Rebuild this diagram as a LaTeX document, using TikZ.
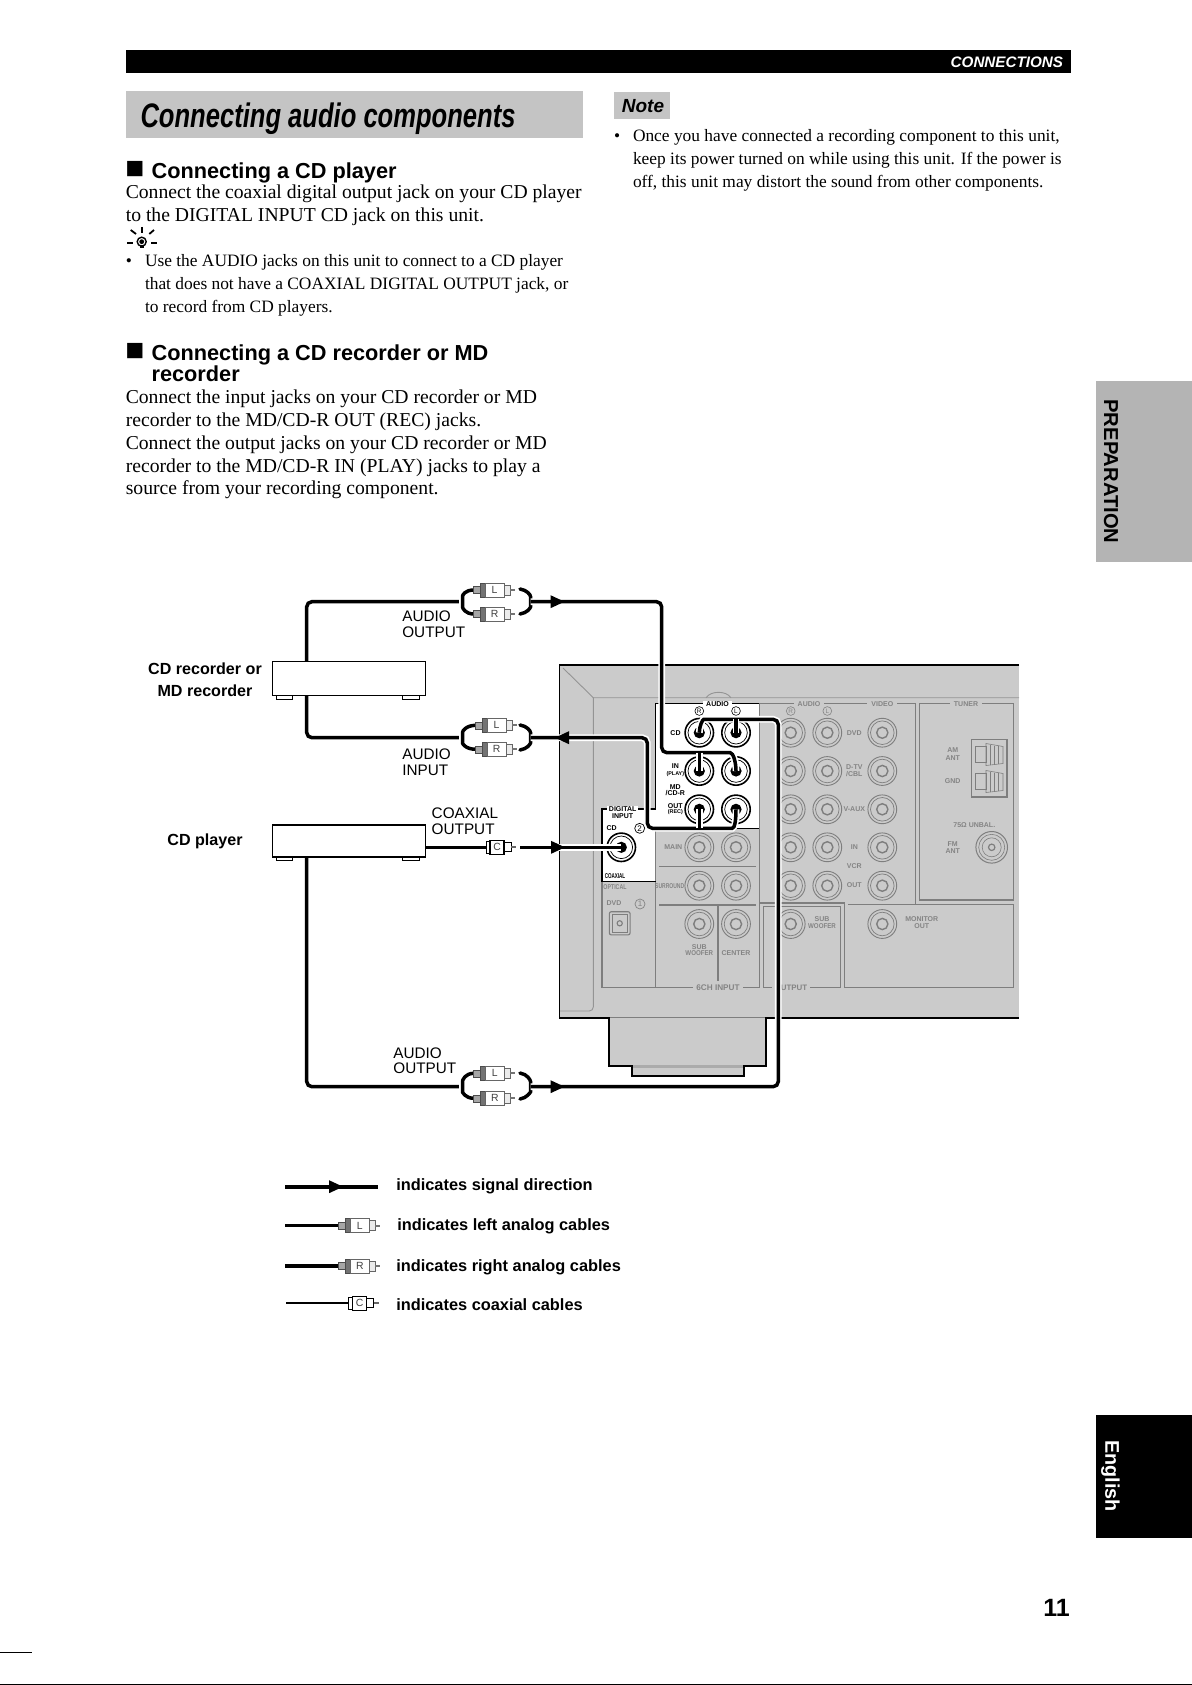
\documentclass[tikz,border=0pt]{standalone}
\usepackage{fontspec}
\usepackage{graphicx}
\setmainfont{Liberation Serif}
\setsansfont{Liberation Sans}
\definecolor{panelg}{HTML}{CBCBCB}
\definecolor{lineg}{HTML}{7E7E7E}
\definecolor{textg}{HTML}{848484}
\definecolor{titleg}{HTML}{C4C4C4}
\definecolor{tabg}{HTML}{B4B4B4}
\newcommand{\fsz}[1]{\fontsize{#1}{#1}\selectfont}
\tikzset{
 every node/.style={inner sep=0pt,outer sep=0pt},
 bodytxt/.style={anchor=base west,font=\fsz{9.83}},
 smalltxt/.style={anchor=base west,font=\fsz{8.69}},
 headtxt/.style={anchor=base west,font=\sffamily\bfseries\fsz{10.86}},
 sqtxt/.style={anchor=base west,font=\sffamily\bfseries\fsz{15.8}},
 labtxt/.style={anchor=west,font=\sffamily\fsz{7.65}},
 boldtxt/.style={font=\sffamily\bfseries\fsz{8.05}},
 legtxt/.style={anchor=west,font=\sffamily\bfseries\fsz{8.18}},
 ptb/.style={font=\sffamily\bfseries\fsz{3.5},text=black},
 pts/.style={font=\sffamily\bfseries\fsz{2.7},text=black},
 ptg/.style={font=\sffamily\bfseries\fsz{3.5},text=textg},
 frameg/.style={draw=lineg,line width=.55pt},
 frameb/.style={draw=black,line width=.55pt},
 outline/.style={draw=black,line width=.85pt},
 cable/.style={draw=black,line width=1.75pt,rounded corners=2.6pt,preaction={draw=white,line width=3.4pt}},
 gjack/.style={circle,draw=lineg,line width=.45pt,minimum size=14.4pt},
 bjack/.style={circle,draw=black,line width=.8pt,minimum size=14.2pt},
 devbox/.style={rectangle,draw=black,line width=.75pt,fill=white,anchor=north west,minimum width=76.3pt},
 plugtxt/.style={font=\sffamily\fsz{5.2},text=black!75},
}
% grey jack: name x y
\newcommand{\gj}[3]{%
 \node[gjack] (#1) at (#2,#3) {};
 \draw[lineg,line width=.35pt] (#1.center) circle (11.8);
 \draw[lineg,line width=.7pt] (#1.center) circle (5.6);
}
% black jack: name x y
\newcommand{\bj}[3]{%
 \node[bjack] (#1) at (#2,#3) {};
 \draw[black,line width=.35pt] (#1.center) circle (11.3);
 \fill[black] (#1.center) circle (5.6);
}
% RCA plug: name x y letter
\newcommand{\rca}[4]{%
 \begin{scope}[shift={(#2,#3)}]
 \filldraw[fill=black!35,draw=black!70,line width=.3pt] (0,-3.5) rectangle (7,3.5);
 \filldraw[fill=black!55,draw=black!70,line width=.3pt] (7,-7) rectangle (12,7);
 \node[rectangle,draw=black!60,fill=white,line width=.4pt,minimum width=9.5pt,minimum height=7pt,plugtxt] (#1) at (21.5,0) {#4};
 \filldraw[fill=black!8,draw=black!60,line width=.35pt] (31,-5) rectangle (37,5);
 \fill[black!55] (37,-1) rectangle (42,1);
 \end{scope}}
% coax plug
\newcommand{\coax}[3]{%
 \begin{scope}[shift={(#2,#3)}]
 \filldraw[fill=white,draw=black,line width=.35pt] (0,-6) rectangle (4,6);
 \node[rectangle,draw=black,fill=white,line width=.7pt,minimum width=7pt,minimum height=7pt,plugtxt] (#1) at (11,0) {C};
 \filldraw[fill=white,draw=black,line width=.4pt] (18,-4.5) rectangle (25,4.5);
 \fill[black!60] (25,-1) rectangle (30,1);
 \end{scope}}
% arrowhead: tip x, y, direction (+1 right, -1 left)
\newcommand{\ahead}[3]{\fill[black] (#1,#2) -- ++(-14*#3,-6.5) -- ++(0,13) -- cycle;}
\begin{document}
\begin{tikzpicture}[x=.5pt,y=-.5pt]
\useasboundingbox (0,0) rectangle (1192,1685);
\fill[white] (0,0) rectangle (1192,1685);
% page furniture
\fill[black] (125.8,50.5) rectangle (1070.8,73);
\node[anchor=east,text=white,font=\sffamily\bfseries\itshape\fsz{7.6}] (hdr) at (1063,62) {CONNECTIONS};
\fill[titleg] (125.8,91.5) rectangle (582.8,137.8);
\node[anchor=west,font=\sffamily\bfseries\itshape\fsz{17}] (title) at (140.5,118.5) {\scalebox{.752}[1]{Connecting audio components}};
\fill[titleg] (613.8,92.4) rectangle (669.8,119.4);
\node[font=\sffamily\bfseries\itshape\fsz{9.5}] (note) at (643,106.5) {Note};
\node[smalltxt] (nb) at (614,141.8) {•};
\node[smalltxt] (n1) at (633,141.8) {Once you have connected a recording component to this unit,};
\node[smalltxt] (n2) at (633,164.4) {keep its power turned on while using this unit. If the power is};
\node[smalltxt] (n3) at (633,188) {off, this unit may distort the sound from other components.};
\fill[tabg] (1096.4,381) rectangle (1192,562);
\node[rotate=-90,font=\sffamily\bfseries\fsz{10.1}] (prep) at (1111,471.5) {PREPARATION};
\fill[black] (1096.4,1415) rectangle (1192,1537.5);
\node[rotate=-90,text=white,font=\sffamily\bfseries\fsz{9.9}] (engl) at (1110.5,1476) {English};
\node[font=\sffamily\bfseries\fsz{12.5}] (pg) at (1056.5,1608) {11};
\draw[black,line width=.5pt] (0,1652.8) -- (32,1652.8);
\draw[black,line width=.5pt] (0,1684.3) -- (1192,1684.3);
% left text
\node[sqtxt] (hb1) at (125.3,179) {■};
\node[headtxt] (h1) at (151.6,178.4) {Connecting a CD player};
\node[bodytxt] (t1) at (125.8,198.6) {Connect the coaxial digital output jack on your CD player};
\node[bodytxt] (t2) at (125.8,221.8) {to the DIGITAL INPUT CD jack on this unit.};
\begin{scope}[shift={(141.7,241.7)},line width=.9pt,black]
 \draw (-14.7,1.6) -- (-8.7,1.6); \draw (9.3,1.6) -- (15.3,1.6);
 \draw (-11,-11.7) -- (-5.7,-7.7); \draw (12.3,-11.7) -- (7.6,-7.7);
 \draw (0,-14.7) -- (0,-9);
 \draw[line width=.7pt] (0,0) circle (4.5);
 \fill (-2,3) rectangle (2,6); \fill (0,0) circle (2.4);
\end{scope}
\node[smalltxt] (sb) at (125.8,266.7) {•};
\node[smalltxt] (s1) at (145,266.7) {Use the AUDIO jacks on this unit to connect to a CD player};
\node[smalltxt] (s2) at (145,289.2) {that does not have a COAXIAL DIGITAL OUTPUT jack, or};
\node[smalltxt] (s3) at (145,312.7) {to record from CD players.};
\node[sqtxt] (hb2) at (125.3,360.6) {■};
\node[headtxt] (h2) at (151.6,360) {Connecting a CD recorder or MD};
\node[headtxt] (h2b) at (151.6,381.6) {recorder};
\node[bodytxt] (u1) at (125.8,403.3) {Connect the input jacks on your CD recorder or MD};
\node[bodytxt] (u2) at (125.8,426.3) {recorder to the MD/CD-R OUT (REC) jacks.};
\node[bodytxt] (u3) at (125.8,449) {Connect the output jacks on your CD recorder or MD};
\node[bodytxt] (u4) at (125.8,472.2) {recorder to the MD/CD-R IN (PLAY) jacks to play a};
\node[bodytxt] (u5) at (125.8,494.4) {source from your recording component.};
% rear panel
\fill[panelg] (609.3,1017) rectangle (766,1066);
\fill[panelg] (631.7,1066) rectangle (744,1075.7);
\fill[black!33] (633,1065) rectangle (743,1068);
\fill[panelg] (559.5,665) rectangle (1019,1017.7);
\draw[lineg,line width=.5pt] (560,1017.7) -- (1019,1017.7);
\draw[outline] (1019,665) -- (559.5,665) -- (559.5,1017.7) -- (609.3,1017.7) -- (609.3,1066) -- (631.7,1066) -- (631.7,1075.7) -- (744,1075.7) -- (744,1066) -- (766,1066) -- (766,1017.7) -- (1019,1017.7);
\draw[black!42,line width=.45pt] (563,668) -- (593.3,697.7) -- (1019,697.7);
\draw[black!42,line width=.45pt,rounded corners=2pt] (593.3,697.7) -- (593.3,1011) -- (560,1011);
\draw[black!42,line width=.45pt] (706,697.7) .. controls (711,690.5) and (726,690.5) .. (731,697.7);
% white areas
\fill[white] (655.7,703.3) rectangle (759.3,828.3);
\fill[white] (602,809) rectangle (655.7,881.7);
% grey frames
\draw[frameg] (759.3,703.3) -- (915.7,703.3) -- (915.7,904.5);
\draw[frameg] (759.3,903) -- (844.3,903) -- (844.3,987.3) -- (1013.3,987.3) -- (1013.3,904.5) -- (848,904.5);
\draw[frameg] (763.3,987.3) -- (763.3,906.7) -- (840.7,906.7) -- (840.7,987.3) -- cycle;
\draw[frameg] (919.3,703.3) rectangle (1013.3,900);
\draw[frameg] (602,881.7) -- (602,987.3) -- (759.3,987.3) -- (759.3,828.3);
\draw[frameg] (655.7,881.7) -- (655.7,987.3);
\draw[frameg] (655.7,828.3) -- (655.7,881.7);
\draw[frameg] (659,866.7) -- (756,866.7);
\draw[frameg] (659,905) -- (756,905);
\draw[frameg] (718,905) -- (718,981);
\draw[frameg] (759.3,703.3) -- (759.3,828.3);
% black frames
\draw[frameb] (655.7,809) -- (655.7,703.3) -- (759.3,703.3);
\draw[frameb] (655.7,809) -- (602,809) -- (602,881.7) -- (655.7,881.7);
\draw[frameb] (655.7,828.3) -- (759.3,828.3);
% grey jacks
\gj{gMainR}{699.3}{847.3} \gj{gMainL}{736}{847.3}
\gj{gSurR}{699.3}{885.7} \gj{gSurL}{736}{885.7}
\gj{gSub}{699.3}{924} \gj{gCen}{736}{924}
\foreach \n/\yy in {a/732.7,b/771,c/809.3,d/847.3,e/885.7}{
 \gj{gA\n}{790.7}{\yy} \gj{gB\n}{827.3}{\yy} \gj{gC\n}{882.3}{\yy}
}
\gj{gOutSub}{790.7}{924}
\gj{gMon}{882.3}{924}
% FM jack
\node[circle,draw=lineg,line width=.5pt,minimum size=15.8pt] (gFM) at (991.7,847.3) {};
\draw[lineg,line width=.3pt] (gFM.center) circle (13);
\draw[lineg,line width=.3pt] (gFM.center) circle (9.5);
\draw[lineg,line width=.6pt] (gFM.center) circle (3.2);
% optical
\node[rectangle,draw=lineg,line width=.55pt,rounded corners=1pt,minimum width=10.4pt,minimum height=11.6pt] (opt) at (619.7,923.3) {};
\draw[lineg,line width=.3pt] (612,914.5) rectangle (627.5,932);
\draw[lineg,line width=.55pt] (opt.center) circle (2.6);
% terminal
\node[rectangle,draw=lineg,line width=.9pt,minimum width=17.6pt,minimum height=28.6pt] (term) at (989,768) {};
\foreach \yy in {743.5,770.5}{
 \draw[lineg,line width=.3pt] (975,\yy+3) rectangle (986,\yy+19);
 \draw[lineg,line width=.3pt] (986,\yy) -- (1003,\yy+3) -- (1003,\yy+20) -- (986,\yy+22) -- cycle;
 \draw[lineg,line width=.25pt] (990,\yy+1) -- (990,\yy+21) (994,\yy+2) -- (994,\yy+21) (998,\yy+2) -- (998,\yy+20);
}
% panel text on grey rules
\node[ptb,fill=white,inner xsep=1.5pt] (tAudB) at (717.5,703.8) {AUDIO};
\node[ptg,fill=panelg,inner xsep=2pt] (tAudG) at (809,703.8) {AUDIO};
\node[ptg,fill=panelg,inner xsep=2pt] (tVid) at (882.3,703.8) {VIDEO};
\node[ptg,fill=panelg,inner xsep=2pt] (tTun) at (966,703.8) {TUNER};
\node[ptg,fill=panelg,inner xsep=1.5pt,font=\sffamily\bfseries\fsz{4.1}] (t6ch) at (718,987.8) {6CH INPUT};
\node[ptg,fill=panelg,inner xsep=1.5pt,font=\sffamily\bfseries\fsz{3.95}] (tOut) at (791,987.8) {OUTPUT};
\node[ptb,fill=white,inner xsep=1pt,inner ysep=.5pt] (tDig) at (622.7,809.5) {DIGITAL};
\node[ptb] (tInp) at (622.7,816.5) {INPUT};
% circled marks
\foreach \nm/\xx/\yy/\tt/\cc in {cbR/699.3/711/R/black,cbL/736/711/L/black,cgR/790.7/711/R/textg,cgL/827.3/711/L/textg}{
 \node[circle,draw=\cc,line width=.3pt,minimum size=4.4pt,text=\cc,font=\sffamily\fsz{3.2}] (\nm) at (\xx,\yy) {\tt};
}
\node[circle,draw=black,line width=.35pt,minimum size=5pt,text=black,font=\sffamily\fsz{4}] (cb2) at (639.7,828.3) {2};
\node[circle,draw=textg,line width=.35pt,minimum size=5pt,text=textg,font=\sffamily\fsz{4}] (cg1) at (640,904) {1};
% black labels
\node[ptb] (lCD) at (675.5,733) {CD};
\node[ptb] (lIN) at (675.3,766) {IN};
\node[pts] (lPL) at (675.3,774) {(PLAY)};
\node[ptb] (lMD) at (675.3,786.7) {MD};
\node[ptb] (lCDR) at (675.3,793) {/CD-R};
\node[ptb] (lOUT) at (675.3,805.7) {OUT};
\node[pts] (lREC) at (675.3,812.2) {(REC)};
\node[ptb] (lCD2) at (611.7,827.7) {CD};
\node[font=\sffamily\bfseries\fsz{3.5},text=black] (lCOAX) at (615,875.7) {\scalebox{.65}[1]{COAXIAL}};
% grey labels
\node[ptg] (gOPT) at (615,886.7) {\scalebox{.75}[1]{OPTICAL}};
\node[ptg] (gDVD) at (614,903) {DVD};
\node[ptg] (gMAIN) at (673.3,847) {MAIN};
\node[ptg] (gSUR) at (669.7,885.7) {\scalebox{.72}[1]{SURROUND}};
\node[ptg] (gSW1) at (699.3,946.7) {SUB};
\node[ptg] (gSW2) at (699.3,953.5) {\scalebox{.88}[1]{WOOFER}};
\node[ptg] (gCEN) at (736,953.5) {CENTER};
\node[ptg] (gSW3) at (822,919.3) {SUB};
\node[ptg] (gSW4) at (822,926.3) {\scalebox{.88}[1]{WOOFER}};
\node[ptg] (gMO1) at (921.7,919.3) {MONITOR};
\node[ptg] (gMO2) at (921.7,926.3) {OUT};
\node[ptg] (gDVD2) at (854.3,732.7) {DVD};
\node[ptg] (gTV) at (854.3,766.7) {D-TV};
\node[ptg] (gCBL) at (854.3,773.7) {/CBL};
\node[ptg] (gVA) at (854.3,808.7) {V-AUX};
\node[ptg] (gIN) at (854.3,846.7) {IN};
\node[ptg] (gVCR) at (854.3,865.7) {VCR};
\node[ptg] (gOUTv) at (854.3,884.7) {OUT};
\node[ptg] (gAM) at (952.7,750.3) {AM};
\node[ptg] (gANT) at (952.7,758.3) {ANT};
\node[ptg] (gGND) at (952.7,781.3) {GND};
\node[ptg] (g75) at (974.3,824.7) {75Ω UNBAL.};
\node[ptg] (gFMt) at (952.7,843.7) {FM};
\node[ptg] (gANT2) at (952.7,850.7) {ANT};
% black jacks
\bj{jCDR}{699.3}{732.7} \bj{jCDL}{736}{732.7}
\bj{jINR}{699.3}{771} \bj{jINL}{736}{771}
\bj{jOUTR}{699.3}{809.3} \bj{jOUTL}{736}{809.3}
\bj{jDIG}{621.3}{847.3}
% free cable points
\coordinate (aR) at (530.5,601.7);
\coordinate (bR) at (530.5,737.7);
\coordinate (dR) at (530.5,1086.7);
\coordinate (cS) at (520,847.3);
\coordinate (recN) at (306.7,661.7); \coordinate (recS) at (306.7,695.7);
\coordinate (cdE) at (425.3,847.3); \coordinate (cdS) at (306.7,857);
% cables
\draw[cable] (recN) |- (462.5,601.7);
\draw[cable] (recS) |- (462.5,737.7);
\draw[cable] (cdS) |- (462.5,1086.7);
\draw[cable] (cdE) -- (487,847.3);
\draw[cable,line cap=round] (474,590) .. controls (465,590) and (462.5,595) .. (462.5,601.7) .. controls (462.5,608) and (465,614) .. (474,614);
\draw[cable,line cap=round] (476,725.3) .. controls (466,725.3) and (462.5,731) .. (462.5,737.7) .. controls (462.5,744) and (466,749.3) .. (476,749.3);
\draw[cable,line cap=round] (474,1073.3) .. controls (465,1073.3) and (462.5,1080) .. (462.5,1086.7) .. controls (462.5,1092) and (465,1098.3) .. (474,1098.3);
\draw[cable,line cap=round] (520,589) .. controls (527,590) and (530.5,595) .. (530.5,601.7) .. controls (530.5,608) and (527,613) .. (520,614);
\draw[cable,line cap=round] (520,725) .. controls (527,726) and (530.5,731) .. (530.5,737.7) .. controls (530.5,744) and (527,749) .. (520,750);
\draw[cable,line cap=round] (520,1073) .. controls (527,1074) and (530.5,1080) .. (530.5,1086.7) .. controls (530.5,1092) and (527,1098) .. (520,1099);
% cables into the jacks
\draw[cable] (aR) -- (661.7,601.7) -- (661.7,752.7) -- (725,752.7) to[out=0,in=90] (jINL.center);
\draw[cable] (699.3,752.7) -- (jINR.center);
\draw[cable] (bR) -- (647.3,737.7) -- (647.3,828.3) -- (727,828.3) to[out=0,in=-90] (jOUTL.center);
\draw[cable] (699.3,828.3) -- (jOUTR.center);
\draw[cable] (cS) -- (jDIG.center);
\draw[cable] (dR) -- (778.3,1086.7) -- (778.3,719.3) -- (709,719.3) to[out=180,in=90] (jCDR.center);
\draw[cable] (736,719.3) -- (jCDL.center);
\ahead{564.5}{601.7}{1}
\ahead{555}{737.7}{-1}
\ahead{565}{847.3}{1}
\ahead{564.5}{1086.7}{1}
% plugs
\rca{pAL}{473}{590}{L} \rca{pAR}{473}{614}{R}
\rca{pBL}{475}{725.3}{L} \rca{pBR}{475}{749.3}{R}
\rca{pDL}{473.3}{1073.3}{L} \rca{pDR}{473.3}{1098.3}{R}
\coax{pC}{486}{847.3}
% devices
\node[devbox,minimum height=17pt] (rec) at (272.7,661.7) {};
\draw[black,line width=.5pt] (276,695.7) rectangle (292.7,699.2);
\draw[black,line width=.5pt] (402.3,695.7) rectangle (419,699.2);
\node[devbox,minimum height=16pt] (cdp) at (272.7,825) {};
\draw[black,line width=.5pt] (276,857) rectangle (292.7,860.2);
\draw[black,line width=.5pt] (402.3,857) rectangle (419,860.2);
% labels
\node[boldtxt] (lb1) at (205,668.3) {CD recorder or};
\node[boldtxt] (lb2) at (205,691) {MD recorder};
\node[boldtxt] (lb3) at (205,841.5) {CD player};
\node[labtxt] (a1) at (402.3,616) {AUDIO};
\node[labtxt] (a2) at (402.3,632) {OUTPUT};
\node[labtxt] (a3) at (402.3,754.3) {AUDIO};
\node[labtxt] (a4) at (402.3,770) {INPUT};
\node[labtxt] (a5) at (431.7,813) {COAXIAL};
\node[labtxt] (a6) at (431.7,829) {OUTPUT};
\node[labtxt] (a7) at (393.4,1053) {AUDIO};
\node[labtxt] (a8) at (393.4,1068.5) {OUTPUT};
% legend
\coordinate (l1a) at (285,1186.7); \coordinate (l1b) at (378,1186.7);
\draw[black,line width=1.9pt] (l1a) -- (l1b);
\ahead{343}{1186.7}{1}
\coordinate (l2a) at (285,1225.7); \coordinate (l2b) at (338.3,1225.7);
\draw[black,line width=1.3pt] (l2a) -- (l2b);
\rca{lgL}{338.3}{1225.7}{L}
\coordinate (l3a) at (285,1266); \coordinate (l3b) at (338.3,1266);
\draw[black,line width=1.9pt] (l3a) -- (l3b);
\rca{lgR}{338.3}{1266}{R}
\coordinate (l4a) at (286,1303.3); \coordinate (l4b) at (348.7,1303.3);
\draw[black,line width=1.1pt] (l4a) -- (l4b);
\coax{lgC}{348.7}{1303.3}
\node[legtxt] (i1) at (396.3,1186) {indicates signal direction};
\node[legtxt] (i2) at (397.3,1226.7) {indicates left analog cables};
\node[legtxt] (i3) at (396.3,1267.7) {indicates right analog cables};
\node[legtxt] (i4) at (396.3,1305) {indicates coaxial cables};
\end{tikzpicture}
\end{document}
